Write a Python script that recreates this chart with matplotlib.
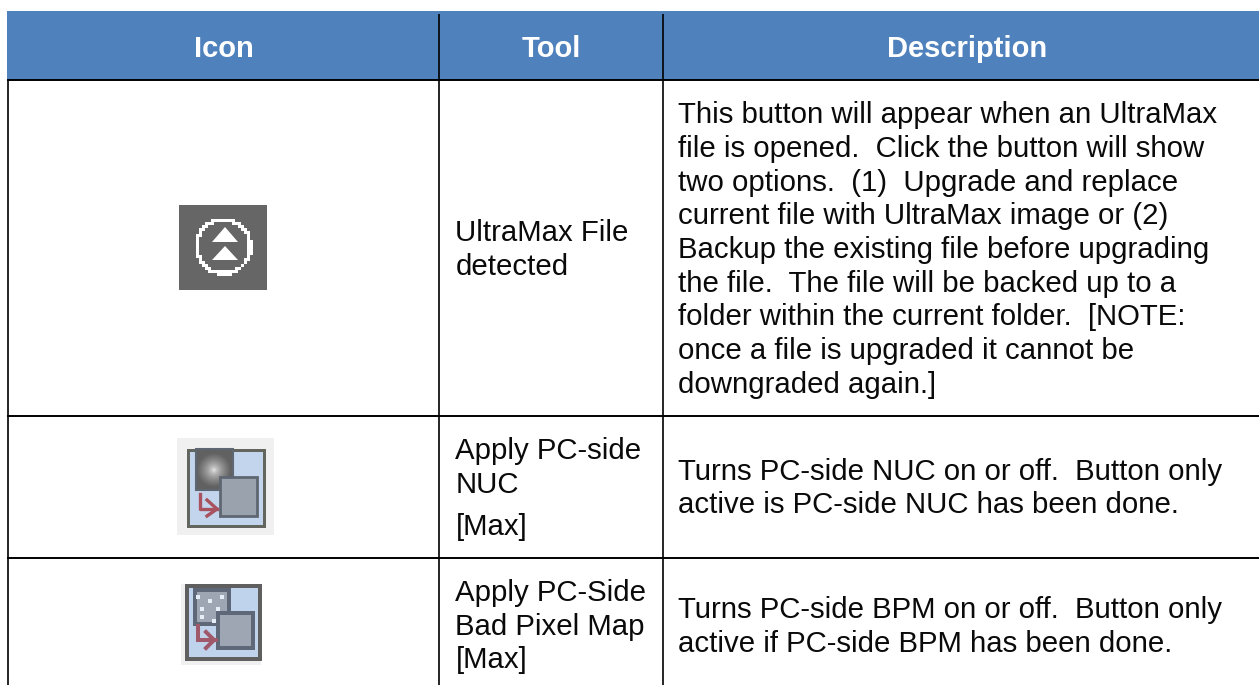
import matplotlib
matplotlib.use('Agg')
import matplotlib.pyplot as plt
import numpy as np
from matplotlib.patches import Rectangle, Polygon

W, H = 1259, 685
plt.rcParams['font.family'] = ['Liberation Sans', 'DejaVu Sans']

headers = ['Icon', 'Tool', 'Description']
tools = [['UltraMax File', 'detected'],
         ['Apply PC-side', 'NUC', '[Max]'],
         ['Apply PC-Side', 'Bad Pixel Map', '[Max]']]
descriptions = [['This button will appear when an UltraMax',
                 'file is opened.  Click the button will show',
                 'two options.  (1)  Upgrade and replace',
                 'current file with UltraMax image or (2)',
                 'Backup the existing file before upgrading',
                 'the file.  The file will be backed up to a',
                 'folder within the current folder.  [NOTE:',
                 'once a file is upgraded it cannot be',
                 'downgraded again.]'],
                ['Turns PC-side NUC on or off.  Button only',
                 'active is PC-side NUC has been done.'],
                ['Turns PC-side BPM on or off.  Button only',
                 'active if PC-side BPM has been done.']]

# grundlinien der zeilen
tool_y = [[241, 275], [459, 493, 535], [601, 635, 668]]
desc_y = [[123, 157, 191, 224, 258, 292, 325, 359, 393], [480, 513], [618, 652]]
head_x = [223.5, 551, 967]
col_lines = [8, 439, 663]
row_lines = [80, 416, 558]
head_blue = '#4f81bd'
fs = 21.2


def box(ax, x0, y0, x1, y1, fc, ec, w):
    # rand liegt innerhalb von x0..x1
    ax.add_patch(Rectangle((x0 + w / 2, y0 + w / 2), x1 - x0 - w, y1 - y0 - w, fc=fc, ec=ec, lw=w * 0.72, joinstyle='miter'))


fig = plt.figure(figsize=(W / 100, H / 100), dpi=100)
ax = fig.add_axes([0, 0, 1, 1])

# kopfzeile
ax.add_patch(Rectangle((7, 11), W - 7, 69, fc=head_blue, ec='none'))
for x, t in zip(head_x, headers):
    ax.text(x, 57, t, color='white', fontsize=21, fontweight='bold', ha='center', va='baseline')

# linien
for x in col_lines:
    top = 80 if x == col_lines[0] else 14
    ax.plot([x, x], [top, H], color='k', lw=1.2, solid_capstyle='butt')
for y in row_lines:
    ax.plot([7, W], [y, y], color='k', lw=1.4, solid_capstyle='butt')

# text
for i in range(3):
    for t, y in zip(tools[i], tool_y[i]):
        ax.text(455.5, y, t, fontsize=fs, va='baseline', color='#0a0a0a')
    for t, y in zip(descriptions[i], desc_y[i]):
        ax.text(678, y, t, fontsize=fs, va='baseline', color='#0a0a0a')

# icon 1, grobe pixel wie im screenshot
ax.add_patch(Rectangle((179, 205), 88, 85, fc='#666666', ec='none'))
gx, gy = np.meshgrid(np.arange(194.5, 254, 3), np.arange(216.5, 276, 3))
r = np.hypot(gx - 223.5, gy - 245.5)
ring = np.zeros(r.shape + (4,))
ring[..., :3] = 1
ring[..., 3] = (np.abs(r - 27) < 2).astype(float)
ax.imshow(ring, extent=(193, 253, 276, 216), interpolation='nearest', aspect='auto', zorder=3)
ax.add_patch(Polygon([[212, 242], [238, 242], [225, 227]], fc='white', ec='none', zorder=3))
ax.add_patch(Polygon([[212, 260], [238, 260], [225, 246]], fc='white', ec='none', zorder=3))

# icon 2
ax.add_patch(Rectangle((177, 438), 97, 97, fc='#f0f0f0', ec='none'))
box(ax, 187, 448, 266, 527, '#c3d5ec', '#62665f', 3)
gx, gy = np.meshgrid(np.linspace(196, 233, 40), np.linspace(449, 490, 40))
d = np.hypot(gx - 214, gy - 470) / 20
grad = np.clip(0.95 - 0.62 * d ** 0.6, 0.38, 1)
ax.imshow(grad, extent=(196, 233, 490, 449), cmap='gray', vmin=0, vmax=1, aspect='auto', zorder=2, interpolation='bilinear')
ax.add_patch(Rectangle((196, 449), 37, 41, fc='none', ec='#5e6672', lw=1.5, zorder=2))
ax.add_patch(Rectangle((220, 477), 37, 39, fc='#9aa2ae', ec='#5e6672', lw=2, zorder=3))
ax.plot([200, 200, 217], [494, 509, 509], color='#a9525f', lw=2.4, zorder=3)
ax.plot([207, 217, 207], [500, 509, 516], color='#a9525f', lw=2.4, zorder=3)

# icon 3
ax.add_patch(Rectangle((181, 584), 80, 81, fc='#f0f0f0', ec='none'))
box(ax, 185, 584, 262, 661, '#c0d3ec', '#5f5f5f', 4)
box(ax, 193, 588, 231, 626, '#9ea6b3', '#5e6878', 4)
for px, py in [(198, 597), (210, 601), (222, 597), (202, 609), (218, 609), (202, 617), (214, 621)]:
    ax.add_patch(Rectangle((px - 2, py - 2), 4, 4, fc='#e6edf6', ec='none', zorder=3))
box(ax, 216, 611, 255, 650, '#9ea6b3', '#5e6878', 4)
ax.plot([198, 198, 216], [626, 640, 640], color='#a0596b', lw=2.9, solid_joinstyle='miter')
ax.plot([206, 214, 206], [632, 640, 648], color='#a0596b', lw=2.9)

ax.set_xlim(0, W)
ax.set_ylim(H, 0)
ax.axis('off')

fig.savefig('out.png', dpi=100)
